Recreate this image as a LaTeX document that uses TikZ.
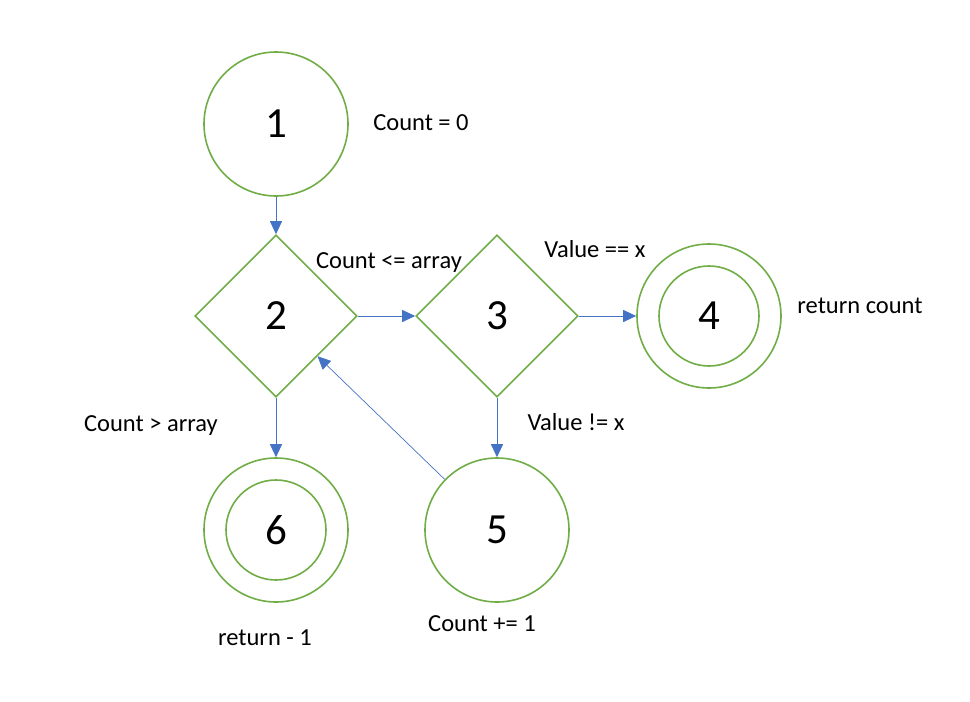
\documentclass[tikz,border=0pt]{standalone}
\usepackage{fontspec}
\setmainfont{Carlito}
\usetikzlibrary{shapes.geometric}
\usetikzlibrary{arrows.meta}
\definecolor{stategreen}{HTML}{70AD47}
\definecolor{edgeblue}{HTML}{4472C4}
\def\rdouter{72}
\def\rdinner{50}
\def\dmside{162}

\begin{document}
\begin{tikzpicture} [x = 1pt, y = -1pt,
    state/.style = {circle, draw = stategreen, line width = 1.6pt,
      minimum size = {2*\rdouter*1pt}, inner sep = 0pt,
      font = \fontsize{43}{48}\selectfont},
    choice/.style = {diamond, draw = stategreen, line width = 1.6pt,
      minimum width = {\dmside*1pt}, minimum height = {\dmside*1pt},
      inner sep = 0pt, font = \fontsize{43}{48}\selectfont},
    ring/.style = {draw = stategreen, line width = 1.6pt},
    edge/.style = {draw = edgeblue, line width = 1pt,
      -{Triangle[length=13pt, width=12pt]}},
    note/.style = {anchor = base, inner sep = 0pt,
      font = \fontsize{24.5}{28}\selectfont}]
    \useasboundingbox (0, 0) rectangle (970, 702);

    \node[state] (n1) at (276, 124) {1};
    \node[choice] (n2) at (276, 316) {2};
    \node[choice] (n3) at (497, 316) {3};
    \node[state] (n4) at (709, 316) {4};
    \node[state] (n5) at (497, 530) {5};
    \node[state] (n6) at (276, 530) {6};

    \draw[ring] (n4.center) circle (\rdinner);
    \draw[ring] (n6.center) circle (\rdinner);

    \draw[edge] (n1) -- (n2);
    \draw[edge] (n2) -- (n3);
    \draw[edge] (n3) -- (n4);
    \draw[edge] (n3) -- (n5);
    \draw[edge] (n2) -- (n6);
    \draw[edge, line width = 0.7pt] (n5) -- (n2);

    \node[note] (c1) at (421, 130) {Count = 0};
    \node[note] (c2) at (389, 268) {Count <= array};
    \node[note] (c3) at (595, 257) {Value == x};
    \node[note] (c4) at (860, 313) {return count};
    \node[note] (c5) at (576, 430) {Value != x};
    \node[note] (c6) at (151, 431) {Count > array};
    \node[note] (c7) at (265, 645) {return - 1};
    \node[note] (c8) at (482, 631) {Count += 1};
  \end{tikzpicture}
\end{document}
